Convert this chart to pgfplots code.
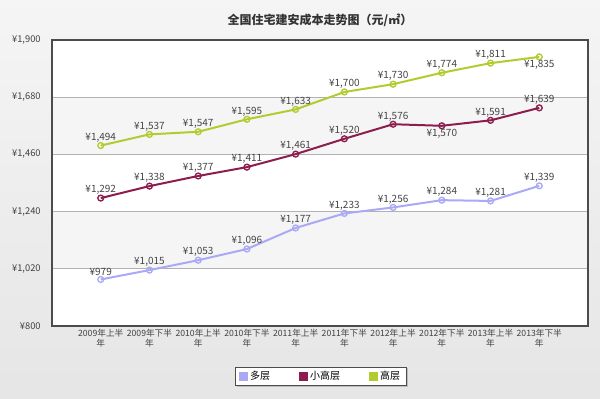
\documentclass[border=0pt]{standalone}
\usepackage{pgfplots}
\usepackage{pgfplotstable}
\pgfplotsset{compat=1.18}
\usepackage{fontspec}
\setmainfont{Noto Sans CJK SC}
\usetikzlibrary{shadows}
\definecolor{cduo}{HTML}{A9A9F6}
\definecolor{cxiao}{HTML}{8C1D4E}
\definecolor{cgao}{HTML}{B4CB30}
\definecolor{band}{HTML}{F5F5F5}
\definecolor{lab}{HTML}{444444}

\pgfplotstableread{
x y anc
0 979 south
1 1015 south
2 1053 south
3 1096 south
4 1177 south
5 1233 south
6 1256 south
7 1284 south
8 1281 south
9 1339 south
}\tblduo
\pgfplotstableread{
x y anc
0 1292 south
1 1338 south
2 1377 south
3 1411 south
4 1461 south
5 1520 south
6 1576 south
7 1570 north
8 1591 south
9 1639 south
}\tblxiao
\pgfplotstableread{
x y anc
0 1494 south
1 1537 south
2 1547 south
3 1595 south
4 1633 south
5 1700 south
6 1730 south
7 1774 south
8 1811 south
9 1835 north
}\tblgao

\pgfplotsset{
  serie/.style={forget plot, color=#1, line width=1.5pt, mark=o, mark size=2.2pt,
    mark options={fill=white, line width=1pt},
    point meta=explicit symbolic,
    nodes near coords={¥\pgfmathprintnumber{\pgfkeysvalueof{/data point/y}}},
    every node near coord/.append style={anchor=\pgfplotspointmeta, font=\fontsize{7.5}{9}\selectfont, text=lab, inner sep=2pt}},
}

\begin{document}
\begin{tikzpicture}
\shade[top color=black!4, bottom color=black!10] (0,0) rectangle (450pt,299.25pt);
\fill[white] (39pt,54.75pt) rectangle (441pt,269.25pt);
\fill[band] (39pt,97.65pt) rectangle (441pt,140.55pt);
\fill[band] (39pt,183.45pt) rectangle (441pt,226.35pt);
\node[font=\bfseries\fontsize{9}{10}\selectfont, text=black!80] at (240pt,284.25pt) {全国住宅建安成本走势图（元/㎡）};
\begin{axis}[
  at={(39pt,54.75pt)}, anchor=south west,
  scale only axis, width=402pt, height=214.5pt,
  xmin=-1, xmax=10, ymin=800, ymax=1900,
  ytick={800,1020,1240,1460,1680,1900},
  xtick={0,...,9},
  xticklabels={2009年上半\\年,2009年下半\\年,2010年上半\\年,2010年下半\\年,2011年上半\\年,2011年下半\\年,2012年上半\\年,2012年下半\\年,2013年上半\\年,2013年下半\\年},
  xticklabel style={align=center, font=\fontsize{6.5}{7.5}\selectfont, text=black!75, yshift=1pt},
  /pgf/number format/.cd, 1000 sep={,}, assume math mode=true, fixed, precision=0,
  /pgfplots/.cd,
  yticklabel={¥\pgfmathprintnumber{\tick}},
  yticklabel style={font=\fontsize{7}{8}\selectfont, text=black!75, xshift=-5pt},
  major tick length=0pt,
  ymajorgrids, grid style={black!30, line width=0.6pt},
  axis line style={draw=black!70, line width=1.5pt},
  legend columns=3,
  legend style={at={(0.502,-0.175)}, anchor=center, draw=black!70, fill=white,
    font=\fontsize{7.5}{9}\selectfont, drop shadow={shadow xshift=1.2pt, shadow yshift=-1.2pt, opacity=0.4},
    /tikz/every even column/.append style={column sep=20pt},
    inner ysep=1pt},
  legend cell align=left,
]
\addlegendimage{only marks, mark=square*, mark size=3pt, color=cduo}
\addlegendimage{only marks, mark=square*, mark size=3pt, color=cxiao}
\addlegendimage{only marks, mark=square*, mark size=3pt, color=cgao}
\addplot[serie=cduo] table[x=x, y=y, meta=anc] {\tblduo};
\addplot[serie=cxiao] table[x=x, y=y, meta=anc] {\tblxiao};
\addplot[serie=cgao] table[x=x, y=y, meta=anc] {\tblgao};
\legend{多层,小高层,高层}
\end{axis}
\end{tikzpicture}
\end{document}
